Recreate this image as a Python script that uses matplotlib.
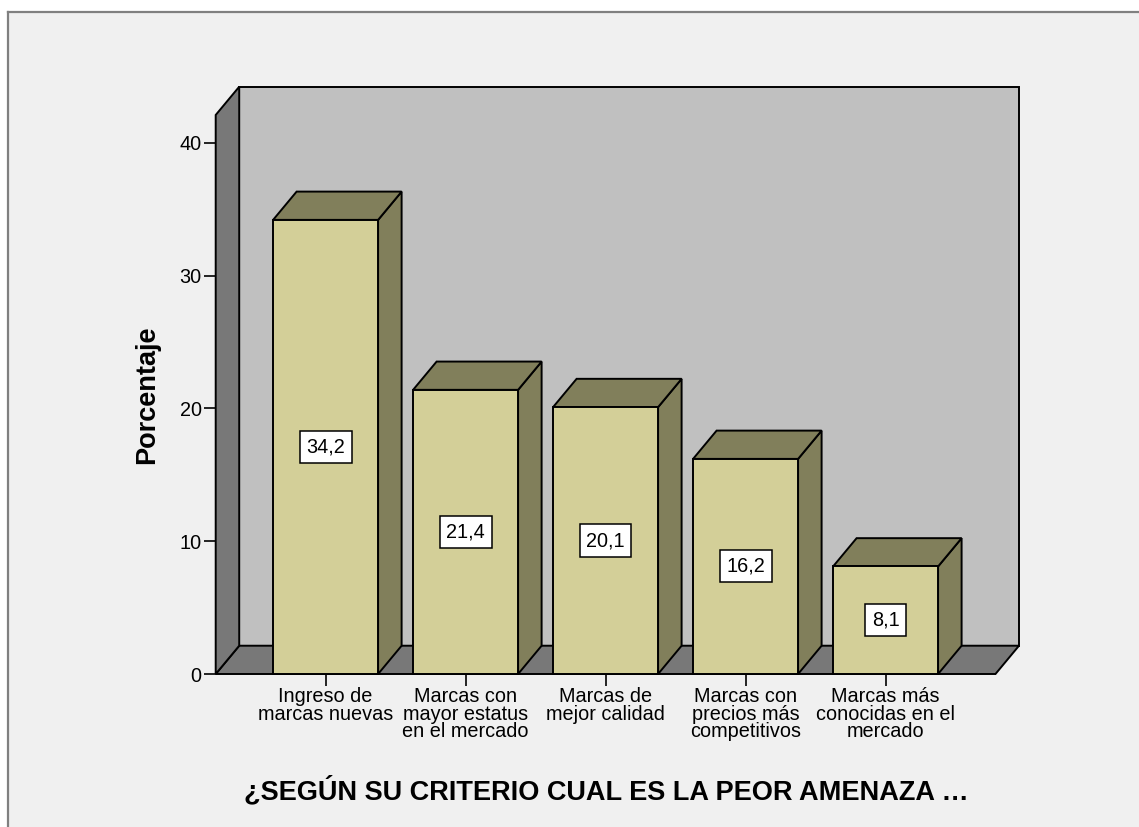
import matplotlib
matplotlib.use("Agg")
import matplotlib.pyplot as plt
from matplotlib.patches import Polygon, Rectangle
from matplotlib.lines import Line2D

# ---- data ----
categories = ["Ingreso de\nmarcas nuevas",
              "Marcas con\nmayor estatus\nen el mercado",
              "Marcas de\nmejor calidad",
              "Marcas con\nprecios más\ncompetitivos",
              "Marcas más\nconocidas en el\nmercado"]
values = [34.2, 21.4, 20.1, 16.2, 8.1]
value_labels = ["34,2", "21,4", "20,1", "16,2", "8,1"]
y_ticks = [0, 10, 20, 30, 40]
y_label = "Porcentaje"
x_label = "¿SEGÚN SU CRITERIO CUAL ES LA PEOR AMENAZA …"

# ---- style ----
FONT = "Liberation Sans"
plt.rcParams["font.family"] = [FONT, "DejaVu Sans"]
BG = "#f0f0f0"
FRONT = "#d3cf98"
SIDE = "#817f5b"
WALL_BACK = "#c0c0c0"
WALL_SIDE = "#787878"
EDGE = "black"
LW = 1.4

W, H = 1139, 827
fig = plt.figure(figsize=(W / 100, H / 100), dpi=100)
fig.patch.set_facecolor("white")

# outer frame
fx0, fy1 = 8 / W, 1 - 12 / H
fig.patches.append(Rectangle((fx0, 0), 1 - fx0, fy1, transform=fig.transFigure,
                             facecolor=BG, edgecolor="none", zorder=-10))
fig.lines.append(Line2D([fx0, 1], [fy1, fy1], transform=fig.transFigure,
                        color="#808080", lw=1.6, zorder=-5))
fig.lines.append(Line2D([fx0, fx0], [0, fy1], transform=fig.transFigure,
                        color="#808080", lw=1.6, zorder=-5))

# axes geometry (pixels)
px_l, px_r, px_t, px_b = 215.7, 1019.0, 86.7, 674.0
ax = fig.add_axes([px_l / W, 1 - px_b / H, (px_r - px_l) / W, (px_b - px_t) / H])
ax.set_facecolor("none")
ax.set_zorder(1)

X_LEFT, X_RIGHT = -0.785, 4.785
DX, DY = 0.168, 2.13
Y_TOP = 42.1
BAR_W = 0.75

ax.set_xlim(X_LEFT, X_RIGHT + DX)
ax.set_ylim(0, Y_TOP + DY)
for s in ax.spines.values():
    s.set_visible(False)

# walls
back = Polygon([(X_LEFT + DX, DY), (X_RIGHT + DX, DY), (X_RIGHT + DX, Y_TOP + DY),
                (X_LEFT + DX, Y_TOP + DY)], closed=True, facecolor=WALL_BACK,
               edgecolor=EDGE, lw=LW, clip_on=False, zorder=1)
floor = Polygon([(X_LEFT, 0), (X_RIGHT, 0), (X_RIGHT + DX, DY), (X_LEFT + DX, DY)],
                closed=True, facecolor=WALL_SIDE, edgecolor=EDGE, lw=LW,
                clip_on=False, zorder=1)
left = Polygon([(X_LEFT, 0), (X_LEFT + DX, DY), (X_LEFT + DX, Y_TOP + DY),
                (X_LEFT, Y_TOP)], closed=True, facecolor=WALL_SIDE,
               edgecolor=EDGE, lw=LW, clip_on=False, zorder=1)
for p in (back, floor, left):
    ax.add_patch(p)

# bars
xs = list(range(len(values)))
ax.bar(xs, values, width=BAR_W, color=FRONT, edgecolor=EDGE, lw=LW, zorder=3,
       clip_on=False)
for x, v, lab in zip(xs, values, value_labels):
    r = x + BAR_W / 2
    l = x - BAR_W / 2
    side = Polygon([(r, 0), (r + DX, DY), (r + DX, v + DY), (r, v)], closed=True,
                   facecolor=SIDE, edgecolor=EDGE, lw=LW, clip_on=False, zorder=2)
    top = Polygon([(l, v), (r, v), (r + DX, v + DY), (l + DX, v + DY)], closed=True,
                  facecolor=SIDE, edgecolor=EDGE, lw=LW, clip_on=False, zorder=2)
    ax.add_patch(side)
    ax.add_patch(top)
    ax.text(x, v / 2, lab, ha="center", va="center", fontsize=14.3, zorder=5,
            bbox=dict(boxstyle="square,pad=0.33", facecolor="white",
                      edgecolor=EDGE, lw=1.1))

# ticks
ax.set_yticks(y_ticks)
ax.set_xticks(xs)
ax.set_xticklabels(categories)
ax.tick_params(axis="both", direction="out", length=8.6, width=1.2, color="black",
               labelsize=14.3, labelcolor="black")
ax.tick_params(axis="y", pad=1.5)
ax.tick_params(axis="x", pad=1.0)
for t in ax.get_xticklabels():
    t.set_linespacing(0.88)

ax.set_ylabel(y_label, fontsize=19.5, fontweight="bold")
ax.yaxis.set_label_coords((160 - px_l) / (px_r - px_l), (px_b - 394.5) / (px_b - px_t))
ax.set_xlabel(x_label, fontsize=19.5, fontweight="bold")
ax.xaxis.set_label_coords((606 - px_l) / (px_r - px_l), -(776 - px_b) / (px_b - px_t))

fig.savefig("out.png", dpi=100, facecolor=fig.get_facecolor())
